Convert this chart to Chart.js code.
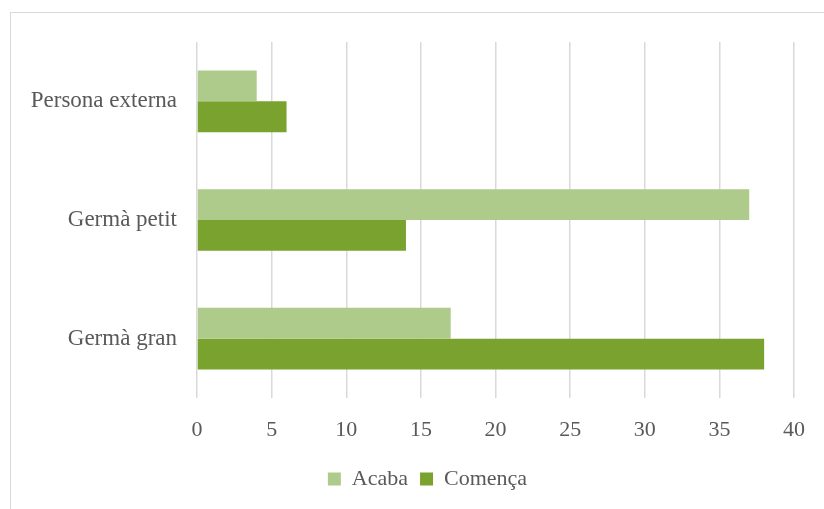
<!DOCTYPE html>
<html>
<head>
<meta charset="utf-8">
<script src="https://cdn.jsdelivr.net/npm/chart.js@4"></script>
<style>
  html, body { margin: 0; padding: 0; background: #fff; overflow: hidden; }
  #wrap { position: relative; width: 824px; height: 509px; }
  #frame { position: absolute; left: 10px; top: 12px; width: 830px; height: 510px; border: 1px solid #d9d9d9; box-sizing: border-box; }
  #chart { position: absolute; left: 0; top: 0; }
</style>
</head>
<body>
<div id="wrap">
  <div id="frame"></div>
  <canvas id="chart" width="824" height="509"></canvas>
</div>
<script>
// dades del gràfic
const categories = ['Persona externa', 'Germà petit', 'Germà gran'];
const acaba = [4, 37, 17];
const comenca = [6, 14, 38];
const seriesNames = ['Acaba', 'Comença'];

const textColor = '#595959';
const fontFamily = '"Liberation Serif", "DejaVu Serif", serif';

// la llegenda va centrada a tot el marc, no a l'àrea del gràfic
const shiftLegend = {
  id: 'shiftLegend',
  afterLayout(chart) {
    if (chart.legend) {
      chart.legend.left += 30;
      chart.legend.right += 30;
    }
  }
};

new Chart(document.getElementById('chart').getContext('2d'), {
  type: 'bar',
  data: {
    labels: categories,
    datasets: [
      {
        label: seriesNames[0],
        data: acaba,
        backgroundColor: '#afcb8b',
        barPercentage: 1,
        categoryPercentage: 0.52
      },
      {
        label: seriesNames[1],
        data: comenca,
        backgroundColor: '#7aa22e',
        barPercentage: 1,
        categoryPercentage: 0.52
      }
    ]
  },
  options: {
    indexAxis: 'y',
    responsive: false,
    animation: false,
    layout: { padding: { top: 42, right: 29, left: 0, bottom: 9 } },
    plugins: {
      tooltip: { enabled: false },
      legend: {
        position: 'bottom',
        labels: {
          color: textColor,
          font: { family: fontFamily, size: 22 },
          boxWidth: 13,
          boxHeight: 13,
          padding: 12
        }
      }
    },
    scales: {
      x: {
        min: 0,
        max: 40,
        ticks: {
          stepSize: 5,
          color: textColor,
          font: { family: fontFamily, size: 22 },
          padding: 19
        },
        grid: { color: '#d9d9d9', lineWidth: 1.5, drawTicks: false },
        border: { display: false },
        afterFit: s => { s.height = 58; }
      },
      y: {
        ticks: {
          color: textColor,
          font: { family: fontFamily, size: 23 },
          padding: 20
        },
        grid: { display: false, drawTicks: false },
        border: { display: false },
        afterFit: s => { s.width = 197; }
      }
    }
  },
  plugins: [shiftLegend]
});
</script>
</body>
</html>
